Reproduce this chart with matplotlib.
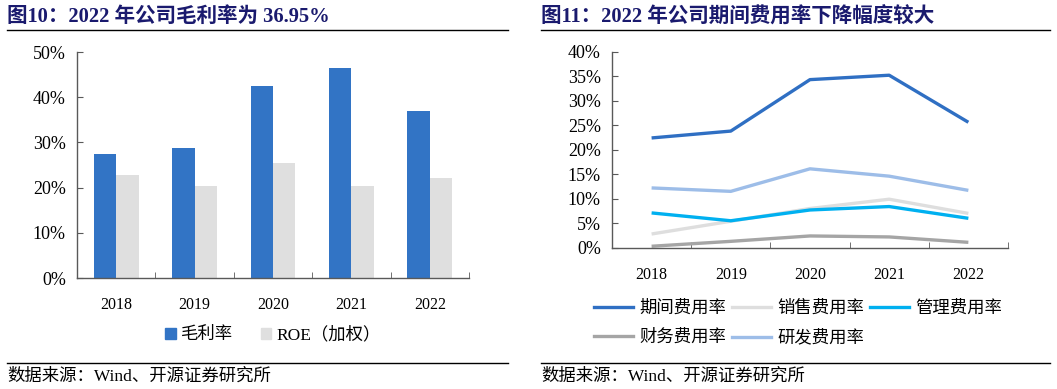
import matplotlib
matplotlib.use("Agg")
import matplotlib.pyplot as plt
from matplotlib.lines import Line2D
from matplotlib.patches import Patch
import numpy as np

plt.rcParams['font.family'] = ['Liberation Serif', 'Noto Sans CJK SC']

# - data -
years = ['2018', '2019', '2020', '2021', '2022']
gross_margin = [27.4, 28.7, 42.4, 46.4, 36.95]
roe = [22.9, 20.3, 25.4, 20.35, 22.1]

period_fee = [22.4, 23.8, 34.3, 35.2, 25.6]
sales_fee = [2.8, 5.4, 8.0, 9.9, 7.0]
admin_fee = [7.1, 5.5, 7.7, 8.4, 6.0]
finance_fee = [0.3, 1.3, 2.4, 2.2, 1.1]
rd_fee = [12.2, 11.5, 16.1, 14.6, 11.7]

title_l = '图10：2022 年公司毛利率为 36.95%'
title_r = '图11：2022 年公司期间费用率下降幅度较大'
source = '数据来源：Wind、开源证券研究所'

navy = '#1a1a6e'
axis_c = '#595959'

fig = plt.figure(figsize=(10.57, 3.89), dpi=100)


def style_axis(ax, top, step):
    for s in ['top', 'right']:
        ax.spines[s].set_visible(False)
    for s in ['left', 'bottom']:
        ax.spines[s].set_color(axis_c)
        ax.spines[s].set_linewidth(1.0)
    ax.set_xlim(-0.5, 4.5)
    ax.set_ylim(0, top)
    ax.set_yticks(np.arange(0, top + 0.01, step))
    ax.set_yticklabels(['%d%%' % v for v in np.arange(0, top + 0.01, step)])
    ax.set_xticks(range(len(years)))
    ax.set_xticklabels(years)
    ax.set_xticks(np.arange(-0.5, 5, 1), minor=True)
    ax.tick_params(axis='x', which='major', length=0, labelsize=11.5, pad=14)
    ax.tick_params(axis='x', which='minor', direction='in', length=4, color=axis_c)
    ax.tick_params(axis='y', direction='in', length=4, color=axis_c, labelsize=13, pad=8)


# left panel: bars
axl = fig.add_axes([0.0728, 0.2853, 0.3709, 0.581])
x = np.arange(len(years))
w = 0.285
axl.bar(x - w / 2, gross_margin, w, color='#3274c5')
axl.bar(x + w / 2, roe, w, color='#dfdfdf')
style_axis(axl, 50, 10)
axl.legend(handles=[Patch(color='#3274c5', label='毛利率'),
                    Patch(color='#dfdfdf', label='ROE（加权）')],
           loc='center', bbox_to_anchor=(0.5, -0.252), ncol=2, frameon=False,
           fontsize=12.5, handlelength=0.6, handleheight=0.6, columnspacing=1.6,
           handletextpad=0.3)

# right panel: lines
axr = fig.add_axes([0.579, 0.3632, 0.3746, 0.5039])
series = [('期间费用率', period_fee, '#2f6fc3'),
          ('销售费用率', sales_fee, '#dedede'),
          ('管理费用率', admin_fee, '#00b0f0'),
          ('财务费用率', finance_fee, '#a5a5a5'),
          ('研发费用率', rd_fee, '#9dbde8')]
draw_order = [1, 3, 2, 4, 0]
for i in draw_order:
    name, vals, c = series[i]
    axr.plot(x, vals, color=c, lw=2.4, solid_capstyle='butt')
style_axis(axr, 40, 5)
# column-major fill -> rows: 期间 销售 管理 / 财务 研发
legend_order = [0, 3, 1, 4, 2]
handles = [Line2D([], [], color=series[i][2], lw=2.4, label=series[i][0])
           for i in legend_order]
axr.legend(handles=handles, loc='upper left', bbox_to_anchor=(-0.085, -0.19),
           ncol=3, frameon=False, fontsize=12.5, handlelength=2.25,
           handletextpad=0.35, columnspacing=0.35, labelspacing=0.75)

# titles, rules, sources
for x0, x1, t in [(7, 508, title_l), (541, 1050, title_r)]:
    fig.text(x0 / 1057, 1 - 17 / 389, t, fontsize=14.8, fontweight='bold',
             color=navy, va='center', ha='left')
    fig.add_artist(Line2D([x0 / 1057, x1 / 1057], [1 - 29.5 / 389] * 2,
                          color='black', lw=1.0))
    fig.add_artist(Line2D([x0 / 1057, x1 / 1057], [1 - 362.5 / 389] * 2,
                          color='black', lw=1.0))
    fig.text(x0 / 1057, 1 - 377 / 389, source, fontsize=12.5, color='black',
             va='center', ha='left')

fig.savefig('out.png', dpi=100)
